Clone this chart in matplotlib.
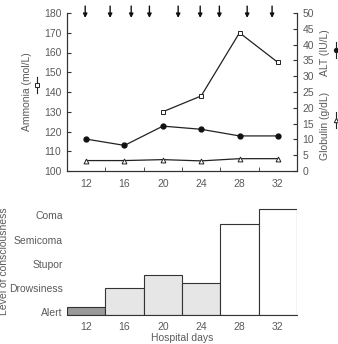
import numpy as np
import matplotlib
matplotlib.use('Agg')
import matplotlib.pyplot as plt
from matplotlib.lines import Line2D

# data
days = [12, 16, 20, 24, 28, 32]
ammonia_days = [20, 24, 28, 32]
ammonia = [130, 138, 170, 155]
alt = [10.1, 8.1, 14.2, 13.2, 11.1, 11.1]
globulin = [3.3, 3.3, 3.6, 3.2, 3.9, 3.9]
arrow_days = [11.9, 14.5, 16.7, 18.6, 21.6, 23.9, 25.9, 28.8, 31.4]

levels = ['Alert', 'Drowsiness', 'Stupor', 'Semicoma', 'Coma']
consciousness = [1.22, 1.98, 2.55, 2.21, 4.63, 5.26]
bar_colors = ['#9a9a9a', '#e6e6e6', '#e6e6e6', '#e6e6e6', '#ffffff', '#ffffff']

txt = '#5a5a5a'
plt.rcParams['font.family'] = ['Liberation Sans', 'DejaVu Sans']
plt.rcParams['font.size'] = 7.5

fig = plt.figure(figsize=(3.38, 3.44), dpi=100)

# ---- top panel
ax = fig.add_axes([67/338, 1-171/344, 230/338, 158/344])
ax2 = ax.twinx()
ax.plot(ammonia_days, ammonia, color='#222222', lw=0.9, marker='s', ms=3.5,
        mfc='white', mec='#222222', mew=0.7, zorder=3)
ax2.plot(days, alt, color='#222222', lw=0.9, marker='o', ms=3.5,
         mfc='#111111', mec='#111111', zorder=3)
ax2.plot(days, globulin, color='#222222', lw=0.9, marker='^', ms=3.5,
         mfc='white', mec='#222222', mew=0.7, zorder=3)

ax.set_xlim(10, 34)
ax.set_ylim(100, 180)
ax2.set_ylim(0, 50)
ax.set_yticks(np.arange(100, 181, 10))
ax2.set_yticks(np.arange(0, 51, 5))
ax.set_xticks(days)
ax.set_xticks([14, 18, 22, 26, 30], minor=True)
ax.tick_params(axis='x', which='major', length=0, pad=6, labelcolor=txt)
ax.tick_params(axis='x', which='minor', direction='in', length=3, color='#333333')
ax.tick_params(axis='y', direction='in', length=3, pad=4, labelcolor=txt, color='#333333')
ax2.tick_params(axis='y', direction='in', length=3, pad=4, labelcolor=txt, color='#333333')
for a in (ax, ax2):
    a.spines['top'].set_visible(False)
    for s in ('left', 'right', 'bottom'):
        a.spines[s].set_color('#333333')
        a.spines[s].set_linewidth(0.8)

# treatment arrows above the plot
for d in arrow_days:
    ax.annotate('', xy=(d, 177.5), xytext=(d, 183.5), xycoords='data',
                arrowprops=dict(arrowstyle='-|>', color='#111111', lw=1.0,
                                mutation_scale=6, shrinkA=0, shrinkB=0),
                annotation_clip=False)

ax.set_ylabel('Ammonia (mol/L)', color=txt)
ax.yaxis.set_label_coords(-0.152, 0.5)
fig.text(325/338, 1-53/344, 'ALT (IU/L)', rotation=90, color=txt,
         ha='center', va='center')
fig.text(325/338, 1-126/344, 'Globulin (g/dL)', rotation=90, color=txt,
         ha='center', va='center')

# little vertical legend keys beside the axis labels
def key(x, y, marker, mfc):
    fx = x / 338
    fy = [1-(y-8)/344, 1-y/344, 1-(y+8)/344]
    fig.add_artist(Line2D([fx]*3, fy, transform=fig.transFigure, color='#222222',
                          lw=0.8, marker=marker, markevery=[1], ms=3.2,
                          mfc=mfc, mec='#222222', mew=0.7))

key(37, 85, 's', 'white')
key(336, 50, 'o', '#111111')
key(336, 120, '^', 'white')

# ---- bottom panel
bx = fig.add_axes([67/338, 1-315/344, 230/338, 108/344])
bx.bar(days, np.array(consciousness) - 0.876, bottom=0.876, width=4,
       color=bar_colors, edgecolor='#333333', lw=0.8)
bx.set_xlim(10, 34)
bx.set_ylim(0.876, 5.35)
bx.set_yticks(range(1, len(levels) + 1))
bx.set_yticklabels(levels)
bx.set_xticks(days)
bx.tick_params(axis='both', length=0, labelcolor=txt)
bx.tick_params(axis='x', pad=5)
bx.tick_params(axis='y', pad=3)
for s in ('top', 'right', 'left'):
    bx.spines[s].set_visible(False)
bx.spines['bottom'].set_color('#333333')
bx.spines['bottom'].set_linewidth(0.8)
bx.set_xlabel('Hospital days', color=txt, labelpad=0.5)
bx.set_ylabel('Level of consciousness', color=txt)
bx.yaxis.set_label_coords(-0.25, 0.5)

fig.savefig('out.png', dpi=100)
